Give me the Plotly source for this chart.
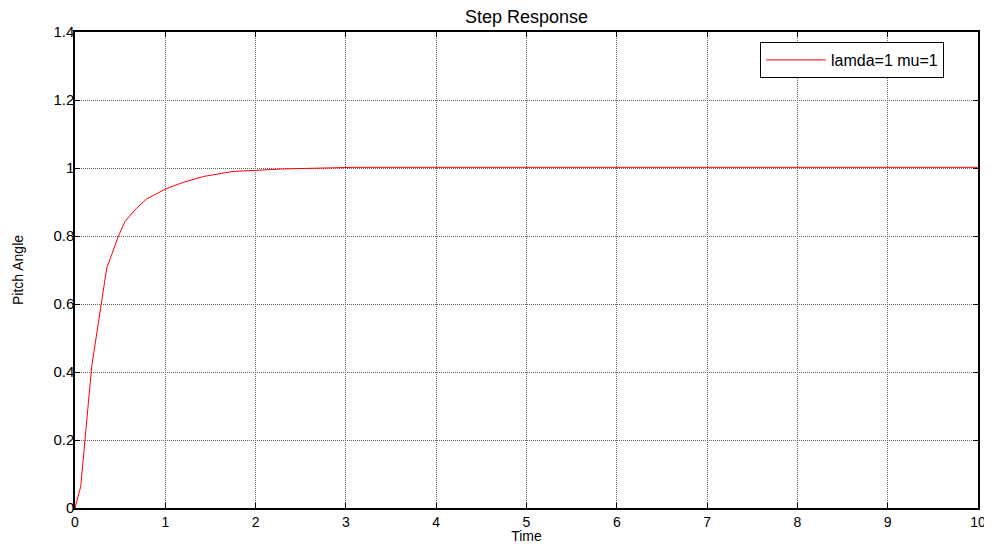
import plotly.graph_objects as go

time = [0, 0.063, 0.185, 0.351, 0.48, 0.554, 0.683, 0.794, 1.0, 1.2, 1.42, 1.75, 2.0, 2.28, 2.6, 3.0, 3.1, 4, 5, 6, 7, 8, 9, 10]
pitch = [0, 0.063, 0.416, 0.705, 0.799, 0.843, 0.882, 0.909, 0.938, 0.958, 0.975, 0.990, 0.993, 0.997, 0.999, 1.0, 1.002, 1.002, 1.002, 1.002, 1.002, 1.002, 1.002, 1.002]

x_ticks = [0, 1, 2, 3, 4, 5, 6, 7, 8, 9, 10]
y_ticks = [0, 0.2, 0.4, 0.6, 0.8, 1, 1.2, 1.4]
y_labels = ["0", "0.2", "0.4", "0.6", "0.8", "1", "1.2", "1.4"]

# page body has an 8px default margin, so the figure is sized/offset accordingly
W, H = 984, 536
OFF = 8

fig = go.Figure()
fig.add_trace(go.Scatter(x=time, y=pitch, mode="lines", name="lamda=1 mu=1",
                         line=dict(color="#ff0000", width=1)))

font_family = "Liberation Sans, Arial, sans-serif"
axis_common = dict(
    showline=True, linecolor="black", linewidth=1.5, mirror="allticks",
    ticks="inside", ticklen=5, tickcolor="black",
    showgrid=True, gridcolor="#666666", griddash="1px,1px", gridwidth=1,
    zeroline=False, automargin=False,
)

fig.update_layout(
    width=W, height=H,
    margin=dict(l=75 - OFF, r=14, t=32 - OFF, b=36, autoexpand=False),
    paper_bgcolor="white", plot_bgcolor="white",
    title=dict(text="Step Response", x=((75 + 978) / 2 - OFF) / W, xanchor="center",
               y=1 - (17 - OFF) / H, yanchor="middle", automargin=False,
               font=dict(family=font_family, size=18, color="black")),
    showlegend=True,
    legend=dict(x=(944 - 75) / (978 - 75), y=(508 - 42) / (508 - 32), xanchor="right", yanchor="top",
                bordercolor="black", borderwidth=1, bgcolor="white",
                itemwidth=60, tracegroupgap=0,
                font=dict(family=font_family, size=16, color="black")),
)
fig.update_xaxes(range=[0, 10], tickvals=x_ticks, ticktext=[str(v) for v in x_ticks],
                 tickfont=dict(family=font_family, size=14, color="black"),
                 title=dict(text="Time", standoff=3, font=dict(family=font_family, size=14, color="black")),
                 **axis_common)
fig.update_yaxes(range=[0, 1.4], tickvals=y_ticks, ticktext=y_labels, ticklabelstandoff=-4,
                 tickfont=dict(family=font_family, size=15, color="black"),
                 title=dict(text="Pitch Angle", standoff=26, font=dict(family=font_family, size=14, color="black")),
                 **axis_common)

fig.write_html("out.html")
